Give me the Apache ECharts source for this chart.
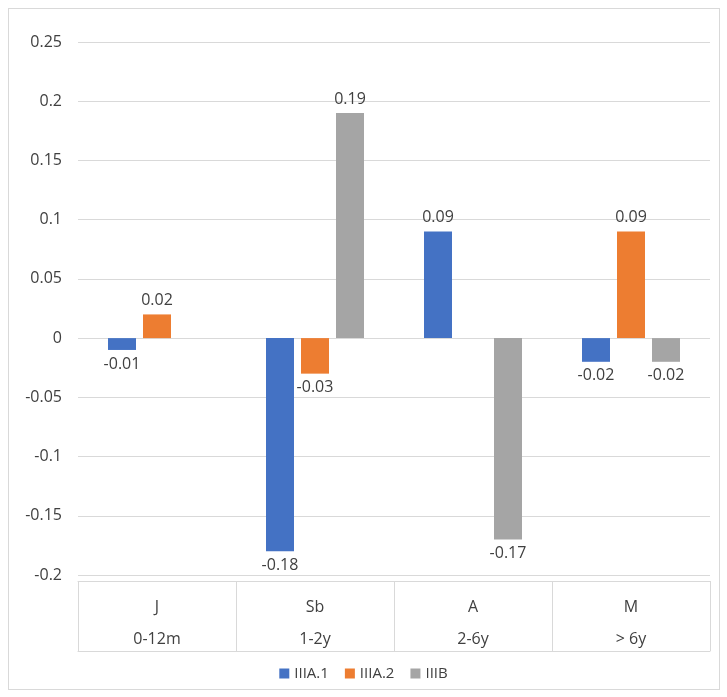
<!DOCTYPE html>
<html>
<head>
<meta charset="utf-8">
<script src="https://cdn.jsdelivr.net/npm/echarts@6/dist/echarts.min.js"></script>
<style>
html,body{margin:0;padding:0;background:#fff;}
#frame{position:absolute;left:8px;top:8px;width:710px;height:680px;border:1px solid #d9d9d9;}
#chart{position:absolute;left:0;top:0;width:727px;height:697px;}
</style>
</head>
<body>
<div id="frame"></div>
<div id="chart"></div>
<script>
// 数据
var groups = ['J', 'Sb', 'A', 'M'];
var ages = ['0-12m', '1-2y', '2-6y', '> 6y'];
var seriesNames = ['IIIA.1', 'IIIA.2', 'IIIB'];
var valsA1 = [-0.01, -0.18, 0.09, -0.02];
var valsA2 = [0.02, -0.03, null, 0.09];
var valsB = [null, 0.19, -0.17, -0.02];
var colors = ['#4472C4', '#ED7D31', '#A5A5A5'];

var myChart = echarts.init(document.getElementById('chart'));

function makeSeries(name, data, color){
    return {
        name: name,
        type: 'bar',
        xAxisIndex: 0,
        //负值标签放在下方
        data: data.map(function(v){
            if (v === null) return null;
            return v < 0 ? {value: v, label: {position: 'bottom'}} : v;
        }),
        barWidth: 28,
        barGap: '25%',
        itemStyle: {color: color},
        label: {
            show: true,
            fontSize: 16,
            color: '#404040',
            position: 'top',
            distance: 6
        }
    };
}

var series = [
    makeSeries(seriesNames[0], valsA1, colors[0]),
    makeSeries(seriesNames[1], valsA2, colors[1]),
    makeSeries(seriesNames[2], valsB, colors[2])
];

var option = {
    animation: false,
    textStyle: {fontFamily: 'Open Sans'},
    legend: {
        bottom: 11,
        left: 'center',
        icon: 'rect',
        itemWidth: 10,
        itemHeight: 10,
        itemGap: 16,
        textStyle: {fontSize: 15, color: '#404040'},
        data: seriesNames
    },
    grid: {left: 78, right: 17, top: 42, bottom: 122},
    xAxis: [{
        type: 'category',
        data: groups,
        position: 'bottom',
        offset: 6,
        axisLine: {show: true, onZero: false, lineStyle: {color: '#d9d9d9'}},
        axisTick: {show: true, length: 70, lineStyle: {color: '#d9d9d9'}},
        axisLabel: {
            margin: 10,
            fontSize: 16,
            color: '#404040',
            lineHeight: 32,
            formatter: function(v, i){ return v + '\n' + ages[i]; }
        }
    }, {
        type: 'category',
        data: groups,
        position: 'bottom',
        offset: 76,
        axisLine: {show: true, onZero: false, lineStyle: {color: '#d9d9d9'}},
        axisTick: {show: false},
        axisLabel: {show: false}
    }],
    yAxis: {
        type: 'value',
        min: -0.2,
        max: 0.25,
        interval: 0.05,
        axisLine: {show: false},
        axisTick: {show: false},
        splitLine: {lineStyle: {color: '#d9d9d9'}},
        axisLabel: {
            fontSize: 16,
            color: '#404040',
            margin: 16,
            formatter: function(v){ return String(Math.round(v * 100) / 100); }
        }
    },
    series: series
};
myChart.setOption(option);
</script>
</body>
</html>
